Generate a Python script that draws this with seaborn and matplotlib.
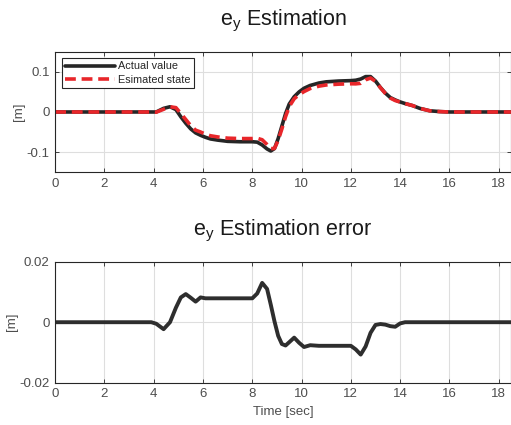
import numpy as np
import pandas as pd
import matplotlib
matplotlib.use("Agg")
import matplotlib.pyplot as plt
import seaborn as sns

# ---- data ----
time_s = [0, 3.9, 4.1, 4.4, 4.66, 4.9, 5.1, 5.3, 5.5, 5.7, 5.9, 6.1, 6.3, 6.6, 7.0, 7.5,
          8.0, 8.2, 8.4, 8.6, 8.75, 8.9, 9.05, 9.2, 9.35, 9.5, 9.7, 9.9, 10.1, 10.35, 10.7,
          11.0, 11.5, 12.0, 12.2, 12.4, 12.6, 12.8, 13.0, 13.2, 13.4, 13.6, 13.8, 14.0,
          14.2, 14.5, 14.8, 15.2, 15.6, 16.0, 18.5]
actual_value = [0, 0, 0.0, 0.009, 0.013, 0.006, -0.012, -0.028, -0.042, -0.052, -0.058,
                -0.063, -0.067, -0.070, -0.073, -0.074, -0.074, -0.075, -0.082, -0.092,
                -0.097, -0.091, -0.066, -0.035, -0.004, 0.020, 0.038, 0.050, 0.059, 0.066,
                0.072, 0.075, 0.077, 0.078, 0.079, 0.082, 0.088, 0.088, 0.077, 0.061, 0.047,
                0.036, 0.030, 0.025, 0.021, 0.016, 0.009, 0.003, 0.001, 0, 0]
estimated_state = [0, 0, -0.0005, 0.0067, 0.013, 0.0108, -0.0038, -0.0187, -0.0339, -0.0452,
                   -0.0498, -0.0551, -0.0591, -0.0621, -0.0651, -0.0661, -0.0661, -0.0655,
                   -0.069, -0.081, -0.0912, -0.0907, -0.0705, -0.0422, -0.0117, 0.0134,
                   0.0329, 0.0432, 0.0508, 0.0584, 0.0642, 0.0672, 0.0692, 0.0702, 0.070,
                   0.0713, 0.080, 0.0845, 0.0761, 0.0604, 0.0462, 0.0347, 0.0285, 0.0246,
                   0.021, 0.016, 0.009, 0.003, 0.001, 0, 0]
estimation_error = [0, 0, -0.0005, -0.0023, 0.0, 0.0048, 0.0082, 0.0093, 0.0081, 0.0068,
                    0.0082, 0.0079, 0.0079, 0.0079, 0.0079, 0.0079, 0.0079, 0.0095, 0.0130,
                    0.0110, 0.0058, 0.0003, -0.0045, -0.0072, -0.0077, -0.0066, -0.0051,
                    -0.0068, -0.0082, -0.0076, -0.0078, -0.0078, -0.0078, -0.0078, -0.0090,
                    -0.0107, -0.0080, -0.0035, -0.0009, -0.0006, -0.0008, -0.0013, -0.0015,
                    -0.0004, 0, 0, 0, 0, 0, 0, 0]
x_ticks = [0, 2, 4, 6, 8, 10, 12, 14, 16, 18]
top_yticks = [-0.1, 0, 0.1]
top_ylabels = ["-0.1", "0", "0.1"]
bot_yticks = [-0.02, 0, 0.02]
bot_ylabels = ["-0.02", "0", "0.02"]

df = pd.DataFrame({"t": time_s, "actual": actual_value,
                   "est": estimated_state, "err": estimation_error})

sns.set_style("whitegrid")
plt.rcParams["font.family"] = ["Liberation Sans", "DejaVu Sans"]
plt.rcParams["axes.unicode_minus"] = False
plt.rcParams["mathtext.fontset"] = "custom"
plt.rcParams["mathtext.rm"] = "Liberation Sans"

fig = plt.figure(figsize=(5.11, 4.25), dpi=100)
ax1 = fig.add_axes([0.108, 0.5946, 0.892, 0.2838])
ax2 = fig.add_axes([0.108, 0.0995, 0.892, 0.2847])

grid_c = "#dedede"
spine_c = "#262626"
tick_c = "#4d4d4d"

sns.lineplot(data=df, x="t", y="actual", ax=ax1, color="#262626", lw=2.6,
             label="Actual value")
sns.lineplot(data=df, x="t", y="est", ax=ax1, color="#e8262a", lw=2.6,
             label="Esimated state", dashes=False, linestyle=(0, (3.0, 1.6)))
sns.lineplot(data=df, x="t", y="err", ax=ax2, color="#2e2e2e", lw=2.8)

for ax, yt, yl, ylim in [(ax1, top_yticks, top_ylabels, (-0.15, 0.15)),
                         (ax2, bot_yticks, bot_ylabels, (-0.02, 0.02))]:
    ax.set_xlim(0, 18.5)
    ax.set_ylim(*ylim)
    ax.set_xticks(x_ticks)
    ax.set_xticklabels([str(v) for v in x_ticks])
    ax.set_yticks(yt)
    ax.set_yticklabels(yl)
    ax.grid(True, color=grid_c, lw=0.8)
    for s in ax.spines.values():
        s.set_color(spine_c)
        s.set_linewidth(0.8)
        s.set_visible(True)
    ax.tick_params(direction="in", length=3, width=0.6, colors=spine_c,
                   labelcolor=tick_c, labelsize=9.5, right=True, top=True,
                   left=True, bottom=True, pad=4)
    ax.set_ylabel("[m]", color=tick_c, fontsize=9.5)
    ax.set_xlabel("")

ax1.set_title(r"$\mathregular{e_y}$ Estimation", fontsize=15.5, color="#1a1a1a", pad=19)
ax2.set_title(r"$\mathregular{e_y}$ Estimation error", fontsize=15.5, color="#1a1a1a", pad=19)
ax2.set_xlabel("Time [sec]", color=tick_c, fontsize=9.5, labelpad=4)
ax1.yaxis.set_label_coords(-0.067, 0.5)
ax2.yaxis.set_label_coords(-0.082, 0.5)

leg = ax1.legend(loc="upper left", fontsize=7.8, frameon=True, fancybox=False,
                 framealpha=1, edgecolor="#262626", handlelength=4.6,
                 borderpad=0.3, labelspacing=0.3, handletextpad=0.3,
                 borderaxespad=0.6)
leg.get_frame().set_linewidth(0.8)
for txt in leg.get_texts():
    txt.set_color("#262626")

fig.savefig("out.png", dpi=100)
